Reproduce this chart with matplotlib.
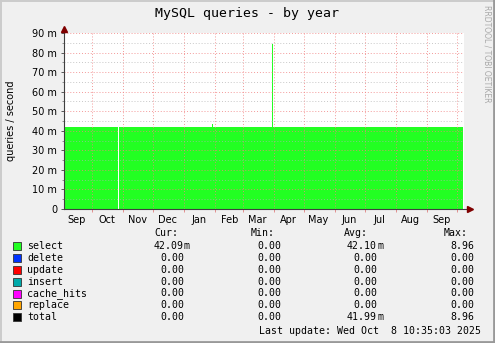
import matplotlib
matplotlib.use("Agg")
import matplotlib.pyplot as plt
import matplotlib.dates as mdates
import numpy as np
import pandas as pd
from matplotlib.patches import Rectangle
from matplotlib.lines import Line2D

W, H = 495, 343

# graph window: 400 days ending at last update
t_end = pd.Timestamp("2025-10-08 10:35:03")
t_start = t_end - pd.Timedelta(days=400)

# select series (queries/second, in milli units), step breakpoints
sel_dates = ["2024-09-03 10:35", "2024-10-27 00:00", "2024-10-28 00:00", "2025-01-29 00:00",
             "2025-01-30 00:00", "2025-03-30 00:00", "2025-03-31 00:00", "2025-10-07 10:35"]
sel_vals = [42.1, 0.0, 42.1, 43.5, 42.1, 84.5, 42.1, 42.1]

# legend table
names = ["select", "delete", "update", "insert", "cache_hits", "replace", "total"]
colors = ["#22ff22", "#0033ff", "#ff0000", "#00aaaa", "#ff00ff", "#ffa500", "#000000"]
cur_vals = [0.04209, 0, 0, 0, 0, 0, 0]
min_vals = [0, 0, 0, 0, 0, 0, 0]
avg_vals = [0.04210, 0, 0, 0, 0, 0, 0.04199]
max_vals = [8.96, 0, 0, 0, 0, 0, 8.96]

yticks = [0, 10, 20, 30, 40, 50, 60, 70, 80, 90]
ylabels = ["0"] + [f"{v} m" for v in yticks[1:]]


def fx(x):
    return x / W


def fy(y):
    return 1 - y / H


def fmt(v):
    # rrdtool style: number plus SI unit (or blank)
    if v != 0 and abs(v) < 1:
        return f"{v * 1000:.2f}", "m"
    return f"{v:.2f}", ""


fig = plt.figure(figsize=(W / 100, H / 100), dpi=100, facecolor="#f0f0f0")

# frame shading
fig.add_artist(Line2D([0, 1], [1 - 0.5 / H, 1 - 0.5 / H], transform=fig.transFigure, color="#cbcbcb", lw=1.4))
fig.add_artist(Line2D([0.5 / W, 0.5 / W], [0, 1], transform=fig.transFigure, color="#cbcbcb", lw=1.4))
fig.add_artist(Line2D([0, 1], [1.2 / H, 1.2 / H], transform=fig.transFigure, color="#999999", lw=2))
fig.add_artist(Line2D([1 - 1.2 / W, 1 - 1.2 / W], [0, 1], transform=fig.transFigure, color="#999999", lw=2))

ax = fig.add_axes([fx(64), fy(209), 400 / W, 176 / H])
ax.set_facecolor("white")

x = mdates.date2num(pd.to_datetime(sel_dates).to_pydatetime())
ax.fill_between(x, sel_vals, 0, step="post", color=colors[0], lw=0, zorder=1)

ax.set_xlim(mdates.date2num(t_start.to_pydatetime()), mdates.date2num(t_end.to_pydatetime()))
ax.set_ylim(0, 90)

# x axis: month boundaries as grid, labels mid-month
ax.xaxis.set_major_locator(mdates.MonthLocator())
ax.xaxis.set_major_formatter(plt.NullFormatter())
ax.xaxis.set_minor_locator(mdates.MonthLocator(bymonthday=16))
ax.xaxis.set_minor_formatter(mdates.DateFormatter("%b"))
ax.tick_params(axis="x", which="major", length=2.5, width=0.6, color="#e08080", direction="out")
ax.tick_params(axis="x", which="minor", length=0, pad=4, labelsize=7)

ax.set_yticks(yticks)
ax.set_yticklabels(ylabels)
ax.set_yticks(np.arange(5, 90, 10), minor=True)
ax.tick_params(axis="y", which="major", length=2, width=0.6, color="#404040", labelsize=7, pad=3)
ax.tick_params(axis="y", which="minor", length=1.5, width=0.6, color="#808080")

ax.grid(True, axis="x", which="major", color="#f08080", lw=0.7, ls=(0, (1, 2)), alpha=0.8, zorder=2)
ax.grid(True, axis="y", which="major", color="#f08080", lw=0.7, ls=(0, (1, 2)), alpha=0.8, zorder=2)
ax.grid(True, axis="y", which="minor", color="#b0b0b0", lw=0.7, ls=(0, (1, 2)), alpha=0.7, zorder=2)
ax.set_axisbelow(False)

for s in ["top", "right", "left", "bottom"]:
    ax.spines[s].set_visible(False)
# axes with arrows
ax.add_line(Line2D([0, 1.013], [0, 0], transform=ax.transAxes, color="#404040", lw=0.8, clip_on=False, zorder=3))
ax.add_line(Line2D([0, 0], [0, 1.02], transform=ax.transAxes, color="#404040", lw=0.8, clip_on=False, zorder=3))
ax.plot([1.015], [0], marker=">", ms=4, color="#7f0000", transform=ax.transAxes, clip_on=False, zorder=4)
ax.plot([0], [1.025], marker="^", ms=4, color="#7f0000", transform=ax.transAxes, clip_on=False, zorder=4)

# title, labels
fig.text(fx(247), fy(14), "MySQL queries - by year", ha="center", va="center",
         family="DejaVu Sans Mono", fontsize=9.5)
fig.text(fx(11), fy(121), "queries / second", rotation=90, ha="center", va="center", fontsize=7)
fig.text(fx(487), fy(5), "RRDTOOL / TOBI OETIKER", rotation=270, ha="center", va="top",
         fontsize=5.5, color="#a8a8a8")

# legend table
mono = dict(family="DejaVu Sans Mono", fontsize=7.1, va="center")
for label, xh in [("Cur:", 154), ("Min:", 251), ("Avg:", 344), ("Max:", 444)]:
    fig.text(fx(xh), fy(233), label, ha="left", **mono)

row_y = 245.7
for i, name in enumerate(names):
    y = row_y + i * 11.95
    fig.add_artist(Rectangle((fx(13), fy(y + 4)), 8 / W, 8 / H, transform=fig.transFigure,
                             facecolor=colors[i], edgecolor="#333333", lw=0.6))
    fig.text(fx(27), fy(y), name, ha="left", **mono)
    for vals, xr in [(cur_vals, 184), (min_vals, 281), (avg_vals, 377), (max_vals, 474.5)]:
        num, unit = fmt(vals[i])
        fig.text(fx(xr), fy(y), num, ha="right", **mono)
        if unit:
            fig.text(fx(xr), fy(y), unit, ha="left", **mono)

fig.text(fx(481), fy(330.5), "Last update: Wed Oct  8 10:35:03 2025", ha="right", **mono)

fig.savefig("out.png", dpi=100, facecolor=fig.get_facecolor())
